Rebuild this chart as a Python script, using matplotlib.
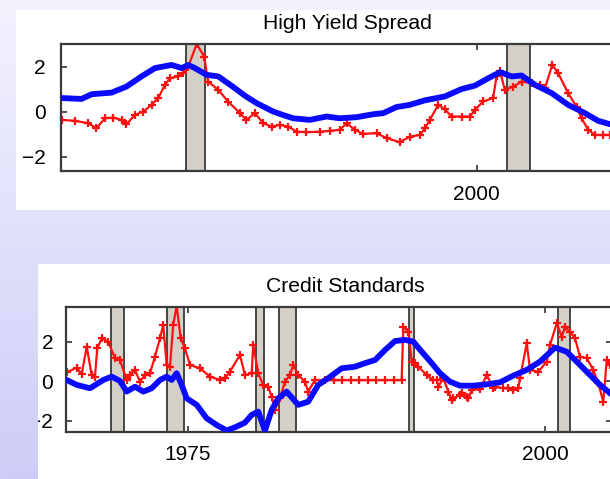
import matplotlib
matplotlib.use('Agg')

from matplotlib import pyplot as plt
from matplotlib.patches import Rectangle
import numpy as np

plt.rcParams['font.family'] = ['Liberation Sans', 'DejaVu Sans']

# High yield spread: smoothed (blue) and quarterly (red), standardized
hy_smooth_year = [1986.17, 1986.83, 1987.17, 1987.83, 1988.33, 1988.83, 1989.28, 1989.83,
                  1990.17, 1990.39, 1990.61, 1991.0, 1991.39, 1991.94, 1992.28, 1992.67,
                  1993.22, 1993.54, 1993.89, 1994.44, 1995.0, 1995.44, 1996.0, 1996.55,
                  1996.89, 1997.33, 1997.78, 1998.28, 1998.94, 1999.5, 1999.94, 2000.39,
                  2000.78, 2001.17, 2001.5, 2001.94, 2002.5, 2003.05, 2003.61, 2004.05,
                  2004.44, 2004.9]
hy_smooth = [0.6, 0.56, 0.77, 0.84, 1.11, 1.56, 1.93, 2.07,
             1.93, 2.07, 1.93, 1.63, 1.56, 1.04, 0.7, 0.37,
             0.0, -0.15, -0.3, -0.37, -0.22, -0.3, -0.25, -0.12,
             -0.07, 0.2, 0.3, 0.5, 0.67, 1.0, 1.15, 1.48,
             1.75, 1.56, 1.6, 1.19, 0.82, 0.3, -0.07, -0.41,
             -0.56, -0.7]

hy_year = [1986.17, 1986.61, 1987.05, 1987.33, 1987.61, 1987.89, 1988.17, 1988.33,
           1988.61, 1988.89, 1989.17, 1989.39, 1989.61, 1989.78, 1990.05, 1990.22,
           1990.39, 1990.67, 1990.92, 1991.05, 1991.39, 1991.72, 1992.11, 1992.33,
           1992.61, 1992.89, 1993.17, 1993.44, 1993.72, 1994.0, 1994.33, 1994.78,
           1995.11, 1995.44, 1995.67, 1995.94, 1996.22, 1996.67, 1997.0, 1997.44,
           1997.78, 1998.11, 1998.28, 1998.44, 1998.72, 1998.94, 1999.17, 1999.5,
           1999.78, 1999.94, 2000.22, 2000.55, 2000.67, 2000.78, 2000.94, 2001.22,
           2001.5, 2001.83, 2002.11, 2002.28, 2002.52, 2002.72, 2003.05, 2003.33,
           2003.5, 2003.72, 2003.94, 2004.2, 2004.44, 2004.9]
hy_spread = [-0.37, -0.41, -0.52, -0.74, -0.3, -0.27, -0.37, -0.56,
             -0.15, 0.0, 0.3, 0.6, 1.19, 1.48, 1.56, 1.7,
             2.0, 3.0, 2.44, 1.33, 0.96, 0.44, -0.07, -0.37,
             -0.07, -0.52, -0.67, -0.59, -0.67, -0.89, -0.92, -0.89,
             -0.86, -0.81, -0.52, -0.81, -0.99, -0.96, -1.18, -1.36,
             -1.11, -1.04, -0.74, -0.37, 0.3, 0.1, -0.22, -0.22,
             -0.22, 0.07, 0.45, 0.6, 1.6, 1.81, 0.96, 1.11,
             1.33, 1.26, 1.19, 1.04, 2.07, 1.7, 0.82, 0.22,
             -0.3, -0.81, -1.04, -1.04, -1.04, -1.0]

# Credit standards: smoothed (blue) and quarterly survey (red), standardized
cs_smooth_year = [1966.51, 1967.21, 1968.14, 1969.07, 1969.66, 1970.24, 1970.71, 1971.29,
                  1971.87, 1972.46, 1973.04, 1973.51, 1973.86, 1974.21, 1974.56, 1974.91,
                  1975.61, 1976.31, 1977.01, 1977.71, 1978.41, 1978.99, 1979.46, 1979.92,
                  1980.39, 1980.86, 1981.32, 1981.91, 1982.72, 1983.42, 1984.12, 1984.82,
                  1985.76, 1986.69, 1987.39, 1988.1, 1988.8, 1989.5, 1990.2, 1990.78,
                  1991.37, 1992.07, 1992.65, 1993.35, 1994.05, 1994.98, 1995.92, 1996.85,
                  1997.78, 1998.72, 1999.65, 2000.7, 2001.52, 2002.22, 2003.15, 2003.85,
                  2004.55, 2005.0]
cs_smooth = [0.06, -0.19, -0.36, 0.06, 0.23, 0.01, -0.53, -0.28,
             -0.53, -0.36, 0.06, 0.23, 0.06, 0.4, -0.19, -0.87,
             -1.2, -1.88, -2.22, -2.5, -2.3, -2.1, -1.71, -1.54,
             -2.5, -1.46, -0.87, -0.53, -1.2, -1.04, -0.19, 0.15,
             0.65, 0.73, 0.91, 1.07, 1.58, 2.03, 2.09, 2.0,
             1.49, 0.91, 0.4, -0.03, -0.23, -0.23, -0.16, -0.06,
             0.28, 0.57, 0.99, 1.7, 1.49, 0.99, 0.31, -0.19,
             -0.61, -0.9]

cs_year = [1966.51, 1967.21, 1967.56, 1967.91, 1968.26, 1968.49, 1968.65, 1968.96,
           1969.42, 1969.89, 1970.24, 1970.71, 1970.94, 1971.29, 1971.64, 1971.99,
           1972.34, 1972.69, 1973.04, 1973.27, 1973.51, 1973.74, 1973.97, 1974.21,
           1974.49, 1974.79, 1975.14, 1975.84, 1976.54, 1977.24, 1977.59, 1977.94,
           1978.64, 1978.99, 1979.46, 1979.57, 1979.92, 1980.27, 1980.62, 1980.86,
           1981.09, 1981.44, 1981.79, 1982.14, 1982.37, 1982.72, 1983.19, 1983.42,
           1983.89, 1984.59, 1985.2, 1985.8, 1986.4, 1987.0, 1987.6, 1988.2,
           1988.8, 1989.4, 1989.96, 1990.08, 1990.43, 1990.67, 1990.9, 1991.13,
           1991.72, 1992.18, 1992.42, 1992.53, 1992.88, 1993.23, 1993.47, 1993.58,
           1994.05, 1994.17, 1994.52, 1994.63, 1994.87, 1995.33, 1995.45, 1995.92,
           1996.38, 1996.5, 1997.08, 1997.43, 1997.78, 1998.13, 1998.25, 1998.72,
           1998.95, 1999.53, 2000.12, 2000.35, 2000.82, 2001.17, 2001.4, 2001.75,
           2002.1, 2002.45, 2002.92, 2003.38, 2003.73, 2004.08, 2004.32, 2004.55]
cs_standards = [0.45, 0.68, 0.35, 1.75, 0.31, 0.23, 1.66, 2.17,
                2.0, 1.16, 1.07, 0.06, 0.31, 0.57, -0.03, 0.31,
                0.4, 1.24, 2.17, 2.85, 0.82, 0.73, 2.85, 3.82,
                2.17, 1.66, 0.82, 0.65, 0.23, 0.06, 0.15, 0.48,
                1.33, 0.31, 0.4, 1.83, 0.4, -0.19, -0.28, -0.78,
                -1.46, -0.87, -0.03, 0.31, 0.82, 0.31, -0.03, -0.53,
                0.06, 0.05, 0.05, 0.05, 0.05, 0.05, 0.05, 0.05,
                0.05, 0.05, 0.05, 2.76, 2.51, 0.99, 0.91, 0.73,
                0.31, 0.06, 0.06, -0.28, 0.15, -0.53, -0.95, -0.87,
                -0.7, -0.61, -0.78, -0.87, -0.45, -0.28, -0.4, 0.31,
                -0.36, -0.28, -0.36, -0.36, -0.45, -0.36, 0.15, 1.92,
                0.57, 0.48, 0.99, 1.83, 2.93, 2.25, 2.76, 2.51,
                2.17, 1.24, 1.16, 0.57, -0.11, -1.04, 1.07, 0.82]

# NBER recessions (start, end)
hy_recessions = [(1990.33, 1990.94), (2001.0, 2001.78)]
cs_recessions = [(1969.6, 1970.5), (1973.55, 1974.7), (1979.76, 1980.34),
                 (1981.37, 1982.56), (1990.48, 1990.83), (2000.93, 2001.75)]

W, H = 610, 479
fig = plt.figure(figsize=(W / 100, H / 100), dpi=100)

# slide background: soft lavender fading downwards
bg = fig.add_axes([0, 0, 1, 1], zorder=-10)
top_col = np.array([243, 243, 254]) / 255
bot_col = np.array([205, 205, 247]) / 255
t = np.linspace(0, 1, 256)[:, None, None]
bg.imshow(top_col * (1 - t) + bot_col * t, aspect='auto', extent=[0, 1, 0, 1])
bg.axis('off')


def px_box(x0, y0, x1, y1):
    return [x0 / W, 1 - y1 / H, (x1 - x0) / W, (y1 - y0) / H]


panel1 = Rectangle((16 / W, 1 - 210 / H), 1, 200 / H, transform=fig.transFigure,
                   facecolor='white', edgecolor='none', zorder=-5)
panel2 = Rectangle((38 / W, 0), 1, 1 - 264 / H, transform=fig.transFigure,
                   facecolor='white', edgecolor='none', zorder=-5)
fig.patches.extend([panel1, panel2])


def draw_panel(ax, title, recessions, sx, sy, rx, ry, title_x, ypad, xpad):
    for start, end in recessions:
        ax.axvspan(start, end, facecolor='#d4d0c8', edgecolor='#3a3a3a', lw=1.3, zorder=1)
    ax.plot(rx, ry, color='#ff1010', lw=1.6, marker='+', ms=5.5, mew=1.6, zorder=2)
    ax.plot(sx, sy, color='#0a0aff', lw=4.2, solid_capstyle='round', zorder=3)
    ax.set_title(title, fontsize=15.2, pad=10.5, x=title_x)
    ax.set_xticks([1975, 2000])
    ax.set_yticks([-2, 0, 2])
    ax.tick_params(direction='in', top=True, right=True, length=4, width=1.2,
                   color='#333333', labelsize=15)
    ax.tick_params(axis='y', pad=ypad)
    ax.tick_params(axis='x', pad=xpad)
    for s in ax.spines.values():
        s.set_color('#3a3a3a')
        s.set_linewidth(1.6)


ax1 = fig.add_axes(px_box(60.5, 44, 633.5, 171))
draw_panel(ax1, 'High Yield Spread', hy_recessions, hy_smooth_year, hy_smooth,
           hy_year, hy_spread, 0.5, 10.5, 10)
ax1.set_xlim(1986.13, 2005.23)
ax1.set_ylim(-2.64, 3.0)

ax2 = fig.add_axes(px_box(65.7, 306.7, 612, 431.7))
draw_panel(ax2, 'Credit Standards', cs_recessions, cs_smooth_year, cs_smooth,
           cs_year, cs_standards, 0.511, 9, 9.5)
ax2.set_xlim(1966.44, 2004.69)
ax2.set_ylim(-2.56, 3.77)

# the pasted chart is cropped at the panel's left edge
for tick in ax2.yaxis.get_major_ticks():
    tick.label1.set_clip_path(panel2)

plt.savefig('out.png', dpi=100)
plt.close()
